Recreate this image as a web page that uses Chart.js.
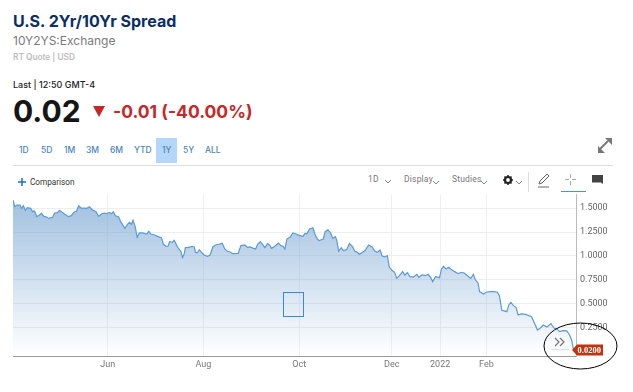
<!DOCTYPE html>
<html>
<head>
<meta charset="utf-8">
<title>U.S. 2Yr/10Yr Spread</title>
<script src="https://cdn.jsdelivr.net/npm/chart.js@4"></script>
<style>
html,body{margin:0;padding:0;background:#fff;width:633px;height:392px;overflow:hidden}
#wrap{position:relative;width:633px;height:392px;font-family:Inter,"Open Sans",sans-serif}
canvas{position:absolute;left:0;top:0}
.t{position:absolute;white-space:nowrap;line-height:1}
.r{font-size:8.5px;font-weight:500;color:#4a86bd;top:146px}
.m{font-size:8.5px;color:#777;top:175px;font-family:Roboto,sans-serif;letter-spacing:.2px}
svg{position:absolute;left:0;top:0}
</style>
</head>
<body>
<div id="wrap">
<div class="t" style="left:13px;top:13px;font-size:16px;font-weight:700;color:#0b2e63">U.S. 2Yr/10Yr Spread</div>
<div class="t" style="left:13px;top:35px;font-size:12px;color:#7a7a7a">10Y2YS:Exchange</div>
<div class="t" style="left:13px;top:53px;font-size:8.3px;font-weight:600;color:#bdbdbd">RT Quote | USD</div>
<div class="t" style="left:13px;top:80px;font-size:9px;font-weight:500;color:#222">Last | 12:50 GMT-4</div>
<div class="t" style="left:13px;top:96px;font-size:30px;font-weight:700;color:#151515">0.02</div>
<div class="t" style="left:113px;top:103px;font-size:17.500px;font-weight:700;color:#c62828">-0.01 (-40.00%)</div>
<div style="position:absolute;left:156px;top:138px;width:21px;height:25px;background:#b5d6fa"></div>
<div class="t r" style="left:19px">1D</div>
<div class="t r" style="left:41px">5D</div>
<div class="t r" style="left:64px">1M</div>
<div class="t r" style="left:86px">3M</div>
<div class="t r" style="left:110px">6M</div>
<div class="t r" style="left:134px">YTD</div>
<div class="t r" style="left:162px">1Y</div>
<div class="t r" style="left:183px">5Y</div>
<div class="t r" style="left:205px">ALL</div>
<div style="position:absolute;left:13px;top:165px;width:600px;height:1px;background:#dcdcdc"></div>
<div class="t" style="left:30px;top:178px;font-size:8.200px;color:#333;font-family:Roboto,sans-serif">Comparison</div>
<div class="t m" style="left:368px">1D</div>
<div class="t m" style="left:404px">Display</div>
<div class="t m" style="left:452px">Studies</div>
<canvas id="c" width="633" height="392"></canvas>
<svg width="633" height="392" viewBox="0 0 633 392" fill="none">
  <path d="M22 178v8M18 182h8" stroke="#1a6fd0" stroke-width="1.5"/>
  <path d="M93 106h12l-6 11z" fill="#c62828"/>
  <path d="M385 180l3 3 3-3M433 181l3 3 3-3M481 181l3 3 3-3M516 181l3 3 3-3" stroke="#888"/>
  <circle cx="508" cy="180" r="3" stroke="#222" stroke-width="2.2"/>
  <path d="M508 175v1.500M508 183.500v1.500M503 180h1.500M511.500 180h1.500M504.500 176.500l1 1M510.500 182.500l1 1M504.500 183.500l1-1M510.500 177.500l1-1" stroke="#222" stroke-width="1.5"/>
  <path d="M528.500 172v20" stroke="#ddd"/>
  <path d="M539 184l1-3 7-7 2 2-7 7zM538 187h11" stroke="#666"/>
  <path d="M570.500 174v4M570.500 181v4M565 179.500h4M572 179.500h4" stroke="#aaa"/>
  <path d="M561 191.500h25" stroke="#3f97ec"/>
  <path d="M592 175h11v8.500h-1.500v-1h-9.500z" fill="#444"/>
  <path d="M600 149l8-8" stroke="#777" stroke-width="2"/>
  <path d="M605 138h7v7zM598 146v7h7z" fill="#777"/>
  <rect x="283.500" y="292.500" width="20" height="24" stroke="#3b84e8" stroke-width="1"/>
  <path d="M551 349.500h18" stroke="#ddd"/>
  <path d="M555 338l4 4-4 4M560 338l4 4-4 4" stroke="#777" stroke-width="1.2"/>
  <ellipse cx="580.500" cy="346" rx="36.500" ry="23" stroke="#000" stroke-width="1"/>
</svg>
</div>
<script>
const sessions = [0,0.8,1.7,3.2,3.9,4.7,5.6,6.5,8,8.9,9.8,10.8,12,12.9,14.1,15.3,16.2,18,18.9,20.2,21.1,22.3,23.6,25.2,26.5,27.7,28.9,29.8,31.1,32.3,33.5,34.7,35.9,37.7,38.9,40.3,41.4,42.6,43.8,44.7,45.6,46.5,48,48.9,50.8,52,52.9,53.8,54.5,55.5,56.4,57.4,58.9,60.8,61.7,62.6,64.4,65.6,67.4,68.3,69.5,70.5,71.1,72.3,73.2,74.4,75.3,76.2,77,77.7,78.3,79.8,81.4,82.3,82.9,83.8,84.7,85.9,86.8,88.3,89.5,90.8,92,93.5,95,96.2,97.1,98.6,99.8,102.3,103.5,105.3,106.5,107.7,109.2,110.2,111.1,112.3,113.5,114.4,115.6,116.5,117.4,118.9,120.5,121.7,122.6,123.5,124.4,125.9,127.1,128.6,130.2,131.7,132.6,133.5,134.7,136.2,137.3,138.2,139.1,140.9,141.8,143,144.3,145.2,146.4,147,147.9,149.1,150,151.5,152.8,154.3,155.2,156.4,157.3,158.8,160,161.5,163.1,164.3,165.5,166.7,167.6,168.8,170,170.9,172.1,173.3,174.3,175.5,177,177.9,179.1,180.3,181.9,183.4,184.3,185.8,187.3,188.5,189.7,190.6,191.9,193.7,194.6,195.5,196.7,197.9,199.1,200.6,202.2,203.7,204.9,206.4,207.9,209.1,210,211.2,211.9,213.7,214.9,216.7,218.2,220,220.9,222,224.3,225.2,226.1,227.3,228.5,229.4,230.9,232.8,235.5,236.4,238.2,239.4,240.9,242.5,244.3,245.8,247,248.2,249.7,251.5,252.8,253.7,254.6];
const spread = [1.583,1.514,1.531,1.531,1.497,1.524,1.476,1.504,1.497,1.462,1.469,1.41,1.427,1.445,1.413,1.406,1.392,1.403,1.448,1.451,1.476,1.455,1.434,1.41,1.42,1.455,1.469,1.524,1.497,1.5,1.497,1.514,1.483,1.462,1.413,1.441,1.448,1.441,1.455,1.441,1.462,1.42,1.406,1.358,1.288,1.33,1.351,1.33,1.372,1.306,1.195,1.24,1.24,1.229,1.257,1.229,1.219,1.205,1.191,1.122,1.101,1.104,1.149,1.142,1.163,1.108,1.073,1.052,0.983,1.017,1.087,1.09,1.101,1.094,1.038,1.035,1.066,1.031,1.01,0.997,1.01,1.094,1.115,1.122,1.132,1.073,1.052,1.042,1.024,1.028,1.108,1.115,1.09,1.094,1.08,1.073,1.122,1.149,1.115,1.087,1.129,1.115,1.08,1.101,1.135,1.108,1.101,1.073,1.177,1.198,1.24,1.229,1.212,1.205,1.236,1.233,1.281,1.295,1.219,1.177,1.16,1.177,1.253,1.274,1.24,1.184,1.201,1.167,1.052,1.087,1.056,1.066,1.129,1.094,1.052,1.038,1.017,1.038,1.059,1.115,1.094,1.052,1.038,1.063,1.003,0.99,1.003,0.885,0.851,0.83,0.767,0.795,0.837,0.802,0.826,0.785,0.781,0.809,0.778,0.802,0.795,0.809,0.774,0.733,0.785,0.774,0.865,0.892,0.865,0.882,0.858,0.837,0.816,0.83,0.823,0.795,0.767,0.809,0.75,0.719,0.629,0.604,0.622,0.629,0.629,0.622,0.587,0.434,0.42,0.49,0.517,0.483,0.462,0.385,0.396,0.392,0.368,0.323,0.229,0.247,0.281,0.26,0.295,0.247,0.24,0.212,0.222,0.219,0.177,0.125,0.02];
const xTickSessions = [43,86.5,130,172,194,215];
const xTickLabels = ["Jun","Aug","Oct","Dec","2022","Feb"];
const yTicks = [0.25,0.5,0.75,1,1.25,1.5];
const lastValue = 0.02;

const lastBadge = {
  id:'lastBadge',
  afterDraw(chart){
    const c = chart.ctx, y = chart.scales.y.getPixelForValue(lastValue), x = chart.chartArea.right;
    c.save();
    c.fillStyle = '#c0330f';
    c.beginPath();
    c.moveTo(x-4,y); c.lineTo(x+1,y-5.500); c.lineTo(x+27,y-5.500); c.lineTo(x+27,y+5.500); c.lineTo(x+1,y+5.500);
    c.closePath(); c.fill();
    c.fillStyle = '#fff';
    c.font = 'bold 8.500px "Liberation Serif", serif';
    c.textAlign = 'left'; c.textBaseline = 'middle';
    c.fillText(lastValue.toFixed(4), x+1.500, y+0.500);
    c.restore();
  }
};

new Chart(document.getElementById('c'), {
  type:'line',
  data:{datasets:[{
    data: sessions.map((s,i)=>({x:s,y:spread[i]})),
    borderColor:'#5a9bd6',
    borderWidth:1.2,
    pointRadius:0,
    tension:0,
    fill:'start',
    backgroundColor(ctx){
      const a = ctx.chart.chartArea;
      if(!a) return 'rgba(110,160,210,.6)';
      const g = ctx.chart.ctx.createLinearGradient(0,a.top,0,a.bottom);
      g.addColorStop(0,'rgba(120,165,210,.72)');
      g.addColorStop(1,'rgba(120,165,210,0)');
      return g;
    }
  }]},
  options:{
    responsive:false,
    animation:false,
    layout:{padding:{left:13,top:194,right:0,bottom:16}},
    plugins:{legend:{display:false},tooltip:{enabled:false}},
    scales:{
      x:{
        type:'linear',min:0,max:255.7,
        afterBuildTicks(s){s.ticks = xTickSessions.map(v=>({value:v}));},
        afterFit(s){s.height=20;},
        ticks:{autoSkip:false,maxRotation:0,padding:3,color:'#777',font:{family:'Roboto',size:9},
          callback(v){const i=xTickSessions.indexOf(v);return i<0?'':xTickLabels[i];}},
        grid:{color:'#f0f0f0',drawTicks:false},
        border:{color:'#999',width:1}
      },
      y:{
        position:'right',min:-0.042,max:1.646,
        afterBuildTicks(s){s.ticks = yTicks.map(v=>({value:v}));},
        afterFit(s){s.width=57;},
        ticks:{padding:4,color:'#666',font:{family:'Roboto',size:9},callback(v){return Number(v).toFixed(4);}},
        grid:{color:'#eeeeee',drawTicks:false},
        border:{color:'#bbb',width:1}
      }
    }
  },
  plugins:[lastBadge]
});
</script>
</body>
</html>
